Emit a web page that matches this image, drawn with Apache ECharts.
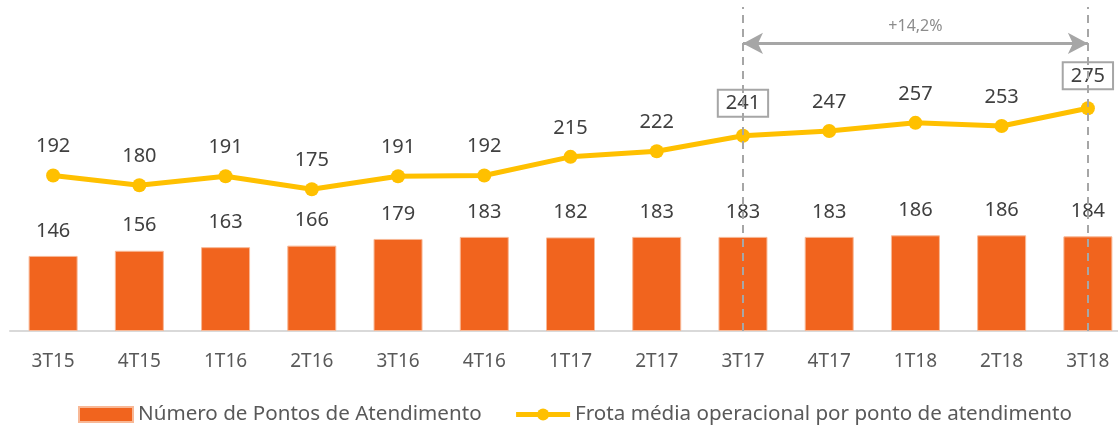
<!DOCTYPE html>
<html>
<head>
<meta charset="utf-8">
<script src="https://cdn.jsdelivr.net/npm/echarts@6/dist/echarts.min.js"></script>
<style>
  html, body { margin: 0; padding: 0; background: #fff; overflow: hidden; }
  /* the plot runs a little past the right edge of the picture */
  #chart { width: 1131px; height: 426px; }
</style>
</head>
<body>
<div id="chart"></div>
<script>
const categories = ['3T15', '4T15', '1T16', '2T16', '3T16', '4T16', '1T17', '2T17', '3T17', '4T17', '1T18', '2T18', '3T18'];
const pontos = [146, 156, 163, 166, 179, 183, 182, 183, 183, 183, 186, 186, 184];
const frota = [192, 180, 191, 175, 191, 192, 215, 222, 241, 247, 257, 253, 275];
const boxedCats = ['3T17', '3T18'];
const growthLabel = '+14,2%';

const font = 'Noto Sans';
const textColor = '#404040';
const markGray = '#a6a6a6';

let chart = echarts.init(document.getElementById('chart'));

let lineData = frota.map((v, i) => {
  if (boxedCats.includes(categories[i])) {
    return {
      value: v,
      label: {
        distance: 12,
        borderColor: markGray,
        borderWidth: 2,
        padding: [4, 8, 3, 8]
      }
    };
  }
  return v;
});

let option = {
  animation: false,
  textStyle: { fontFamily: font },
  grid: { left: 10, top: 7, right: 0, height: 324 },
  legend: {
    left: 73,
    top: 399,
    itemGap: 32,
    itemWidth: 54,
    itemHeight: 15,
    textStyle: { fontSize: 20.6, color: '#595959', fontFamily: font },
    data: [
      { name: 'Número de Pontos de Atendimento', icon: 'rect' },
      {
        name: 'Frota média operacional por ponto de atendimento',
        lineStyle: { width: 5 }
      }
    ]
  },
  xAxis: {
    type: 'category',
    data: categories,
    axisLine: { lineStyle: { color: '#d9d9d9', width: 2 } },
    axisTick: { show: false },
    axisLabel: { color: '#595959', fontSize: 19, margin: 21, fontFamily: font }
  },
  yAxis: [
    { type: 'value', min: 0, max: 630, show: false },
    { type: 'value', min: 0, max: 400, show: false }
  ],
  series: [
    {
      name: 'Número de Pontos de Atendimento',
      type: 'bar',
      data: pontos,
      barWidth: 49,
      itemStyle: { color: '#f1641e', borderColor: '#f8b896', borderWidth: 1 },
      label: { show: true, position: 'top', distance: 15, fontSize: 20, color: textColor, fontFamily: font },
      markLine: {
        silent: true,
        symbol: 'none',
        lineStyle: { color: markGray, type: [8, 6], width: 2 },
        label: { show: false },
        data: boxedCats.map(c => ({ xAxis: c }))
      }
    },
    {
      name: 'Frota média operacional por ponto de atendimento',
      type: 'line',
      yAxisIndex: 1,
      data: lineData,
      symbol: 'circle',
      symbolSize: 14,
      lineStyle: { color: '#ffc000', width: 5 },
      itemStyle: { color: '#ffc000' },
      label: { show: true, position: 'top', distance: 12, fontSize: 20, color: textColor, fontFamily: font },
      markLine: {
        silent: true,
        symbol: ['arrow', 'arrow'],
        symbolSize: [16, 20],
        lineStyle: { color: markGray, type: 'solid', width: 3 },
        label: {
          show: true,
          position: 'middle',
          formatter: growthLabel,
          color: '#8c8c8c',
          fontSize: 16,
          distance: 9,
          fontFamily: font
        },
        data: [[
          { coord: [boxedCats[0], 355] },
          { coord: [boxedCats[1], 355] }
        ]]
      }
    }
  ]
};

option && chart.setOption(option);
</script>
</body>
</html>
